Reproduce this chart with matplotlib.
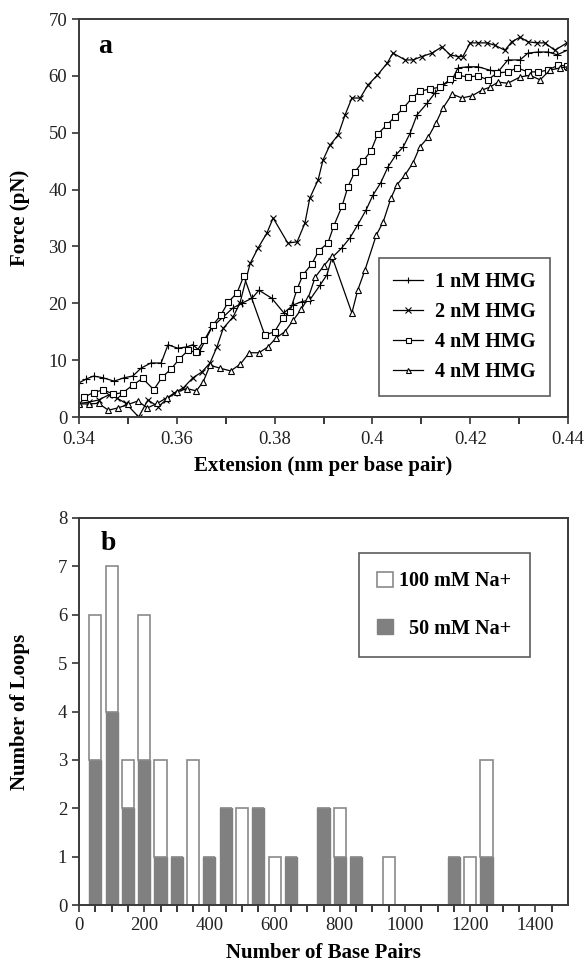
import matplotlib
matplotlib.use("Agg")
import matplotlib.pyplot as plt
from matplotlib.patches import Patch

plt.rcParams['font.family'] = ['Liberation Serif', 'DejaVu Serif']

# --- panel a: force vs extension ---
ext_1nm = [0.3400, 0.3415, 0.3430, 0.3449, 0.3472, 0.3492, 0.3510, 0.3527, 0.3547, 0.3568,
           0.3582, 0.3602, 0.3619, 0.3633, 0.3647, 0.3672, 0.3695, 0.3715, 0.3733, 0.3754,
           0.3768, 0.3794, 0.3819, 0.3838, 0.3856, 0.3872, 0.3893, 0.3907, 0.3917, 0.3937,
           0.3954, 0.3970, 0.3987, 0.4001, 0.4017, 0.4032, 0.4048, 0.4063, 0.4077, 0.4091,
           0.4112, 0.4128, 0.4145, 0.4163, 0.4175, 0.4196, 0.4216, 0.4240, 0.4257, 0.4277,
           0.4302, 0.4318, 0.4339, 0.4359, 0.4378, 0.4398]
force_1nm = [6.0, 6.7, 7.2, 6.9, 6.3, 6.9, 7.2, 8.6, 9.5, 9.5,
             12.7, 12.1, 12.3, 12.7, 11.6, 15.8, 17.6, 19.2, 20.0, 20.9,
             22.3, 20.9, 18.3, 19.7, 20.3, 20.6, 23.2, 25.0, 28.0, 29.7,
             31.5, 33.8, 36.4, 39.0, 41.2, 44.0, 46.1, 47.5, 49.9, 53.1,
             55.2, 57.0, 58.4, 59.3, 61.4, 61.6, 61.6, 61.0, 60.7, 62.8,
             62.8, 64.0, 64.2, 64.2, 63.7, 64.5]

ext_2nm = [0.3400, 0.3420, 0.3440, 0.3461, 0.3478, 0.3496, 0.3522, 0.3541, 0.3562, 0.3578,
           0.3594, 0.3613, 0.3633, 0.3651, 0.3668, 0.3682, 0.3695, 0.3715, 0.3729, 0.3750,
           0.3766, 0.3784, 0.3797, 0.3827, 0.3846, 0.3862, 0.3872, 0.3889, 0.3899, 0.3913,
           0.3930, 0.3944, 0.3958, 0.3975, 0.3991, 0.4010, 0.4030, 0.4042, 0.4067, 0.4083,
           0.4101, 0.4122, 0.4142, 0.4159, 0.4175, 0.4185, 0.4200, 0.4216, 0.4234, 0.4250,
           0.4271, 0.4285, 0.4302, 0.4318, 0.4336, 0.4353, 0.4373, 0.4398]
force_2nm = [2.4, 2.6, 3.0, 3.9, 3.3, 2.4, 0.0, 3.0, 1.8, 3.0,
             4.2, 5.1, 6.9, 7.9, 9.5, 12.3, 15.6, 17.6, 20.0, 27.0,
             29.7, 32.3, 35.0, 30.6, 30.8, 34.1, 38.5, 41.7, 45.2, 47.8,
             49.6, 53.1, 56.1, 56.1, 58.4, 60.1, 62.2, 64.0, 62.8, 62.8,
             63.4, 64.0, 65.1, 63.7, 63.4, 63.4, 65.8, 65.8, 65.8, 65.4,
             64.5, 66.0, 66.8, 66.0, 65.8, 65.8, 64.5, 65.8]

ext_4nm_a = [0.3410, 0.3430, 0.3450, 0.3470, 0.3490, 0.3510, 0.3530, 0.3553, 0.3570, 0.3589,
             0.3605, 0.3623, 0.3639, 0.3656, 0.3674, 0.3690, 0.3705, 0.3723, 0.3737, 0.3780,
             0.3800, 0.3817, 0.3831, 0.3846, 0.3858, 0.3876, 0.3890, 0.3909, 0.3921, 0.3938,
             0.3950, 0.3964, 0.3981, 0.3997, 0.4011, 0.4030, 0.4046, 0.4063, 0.4081, 0.4097,
             0.4118, 0.4138, 0.4159, 0.4175, 0.4195, 0.4216, 0.4236, 0.4255, 0.4277, 0.4296,
             0.4318, 0.4339, 0.4359, 0.4380, 0.4398]
force_4nm_a = [3.5, 4.3, 4.8, 4.0, 4.3, 5.6, 6.8, 4.8, 7.0, 8.5,
               10.2, 11.7, 11.4, 13.5, 16.2, 17.9, 20.2, 21.8, 24.8, 14.4,
               15.0, 17.4, 18.5, 22.5, 25.0, 26.9, 29.2, 30.6, 33.6, 37.1,
               40.5, 43.1, 45.0, 46.8, 49.8, 51.4, 52.8, 54.3, 56.1, 57.3,
               57.7, 58.0, 59.4, 60.1, 59.8, 60.0, 59.3, 60.5, 60.7, 61.4,
               60.7, 60.7, 61.0, 61.9, 61.7]

ext_4nm_b = [0.3400, 0.3420, 0.3440, 0.3460, 0.3480, 0.3500, 0.3520, 0.3540, 0.3560, 0.3580,
             0.3600, 0.3620, 0.3640, 0.3654, 0.3668, 0.3688, 0.3710, 0.3730, 0.3748, 0.3768,
             0.3786, 0.3803, 0.3821, 0.3838, 0.3855, 0.3869, 0.3883, 0.3900, 0.3917, 0.3958,
             0.3970, 0.3985, 0.4008, 0.4022, 0.4038, 0.4050, 0.4067, 0.4083, 0.4097, 0.4114,
             0.4130, 0.4144, 0.4163, 0.4183, 0.4204, 0.4224, 0.4240, 0.4257, 0.4277, 0.4302,
             0.4322, 0.4343, 0.4363, 0.4384, 0.4400]
force_4nm_b = [2.3, 2.3, 2.4, 1.2, 1.6, 2.2, 2.8, 1.6, 2.4, 3.4,
               4.4, 5.0, 4.6, 6.2, 9.1, 8.6, 8.1, 9.3, 11.3, 11.3,
               12.3, 13.9, 15.0, 17.0, 19.0, 21.0, 24.6, 26.5, 28.3, 18.3,
               22.3, 25.9, 32.0, 34.3, 38.5, 40.8, 42.6, 44.7, 47.5, 49.2,
               51.7, 54.3, 56.8, 56.1, 56.5, 57.5, 58.0, 58.9, 58.7, 59.8,
               60.1, 59.3, 61.0, 61.4, 61.6]

# --- panel b: loop size histogram ---
bp_bins = [50, 100, 150, 200, 250, 300, 350, 400, 450, 500, 550, 600, 650, 700,
           750, 800, 850, 900, 950, 1000, 1050, 1100, 1150, 1200, 1250]
loops_50mM = [3, 4, 2, 3, 1, 1, 0, 1, 2, 0, 2, 0, 1, 0,
              2, 1, 1, 0, 0, 0, 0, 0, 1, 0, 1]
loops_100mM = [3, 3, 1, 3, 2, 0, 3, 0, 0, 2, 0, 1, 0, 0,
               0, 1, 0, 0, 1, 0, 0, 0, 0, 1, 2]

W, H = 587, 965
fig = plt.figure(figsize=(W / 100, H / 100), dpi=100)

ax1 = fig.add_axes([79 / W, 1 - 417 / H, 489 / W, 398 / H])
ax2 = fig.add_axes([79 / W, 1 - 905 / H, 489 / W, 387 / H])

frame = '#3a3a3a'
for ax in (ax1, ax2):
    for sp in ax.spines.values():
        sp.set_color(frame)
        sp.set_linewidth(1.4)
    ax.tick_params(direction='out', colors='#222222', labelsize=13.5, width=1.1, length=5)
    ax.tick_params(which='minor', direction='out', width=1.1, length=5)
ax1.tick_params(axis='x', pad=5)

mk = dict(color='black', lw=0.9, mfc='white', mec='black', mew=0.8)
ax1.plot(ext_1nm, force_1nm, marker='+', ms=6, label='1 nM HMG', **mk)
ax1.plot(ext_2nm, force_2nm, marker='x', ms=5, label='2 nM HMG', **mk)
ax1.plot(ext_4nm_a, force_4nm_a, marker='s', ms=4.5, label='4 nM HMG', **mk)
ax1.plot(ext_4nm_b, force_4nm_b, marker='^', ms=4.5, label='4 nM HMG', **mk)

ax1.set_xlim(0.34, 0.44)
ax1.set_ylim(0, 70)
ax1.set_xticks([0.34, 0.36, 0.38, 0.40, 0.42, 0.44])
ax1.set_xticklabels(['0.34', '0.36', '0.38', '0.4', '0.42', '0.44'])
ax1.set_xticks([0.35, 0.37, 0.39, 0.41, 0.43], minor=True)
ax1.set_yticks(range(0, 71, 10))
ax1.set_xlabel('Extension (nm per base pair)', fontsize=15, fontweight='bold')
ax1.set_ylabel('Force (pN)', fontsize=15, fontweight='bold')
ax1.xaxis.set_label_coords(0.5, -0.098)
ax1.yaxis.set_label_coords(-0.1, 0.5)
ax1.text(0.04, 0.93, 'a', transform=ax1.transAxes, fontsize=20, fontweight='bold', va='center')

leg1 = ax1.legend(loc='upper left', bbox_to_anchor=(0.613, 0.40), borderaxespad=0,
                  frameon=True, fancybox=False, edgecolor='#333333',
                  prop={'weight': 'bold', 'size': 14.5},
                  handlelength=1.5, handletextpad=0.6, labelspacing=0.5,
                  borderpad=0.7, markerscale=0.8)
leg1.get_frame().set_linewidth(1.2)

# stacked bars: 50 mM filled at the bottom, 100 mM open on top
ax2.bar(bp_bins, loops_50mM, width=37, color='#808080', edgecolor='#808080', lw=1)
ax2.bar(bp_bins, loops_100mM, width=37, bottom=loops_50mM, color='white',
        edgecolor='#8a8a8a', lw=1.2)

ax2.set_xlim(0, 1500)
ax2.set_ylim(0, 8)
ax2.set_xticks(range(0, 1401, 200))
ax2.set_xticks(range(50, 1500, 50), minor=True)
ax2.set_yticks(range(0, 9))
ax2.set_xlabel('Number of Base Pairs', fontsize=15, fontweight='bold')
ax2.set_ylabel('Number of Loops', fontsize=15, fontweight='bold')
ax2.xaxis.set_label_coords(0.5, -0.098)
ax2.yaxis.set_label_coords(-0.1, 0.5)
ax2.text(0.045, 0.935, 'b', transform=ax2.transAxes, fontsize=20, fontweight='bold', va='center')

handles = [Patch(facecolor='white', edgecolor='#8a8a8a', lw=1.2),
           Patch(facecolor='#808080', edgecolor='#808080')]
leg2 = ax2.legend(handles, ['100 mM Na+', '  50 mM Na+'], loc='upper left',
                  bbox_to_anchor=(0.573, 0.909), borderaxespad=0,
                  frameon=True, fancybox=False, edgecolor='#333333',
                  prop={'weight': 'bold', 'size': 14.5},
                  handlelength=0.8, handleheight=0.8, handletextpad=0.3,
                  labelspacing=1.35, borderpad=0.9)
leg2.get_frame().set_linewidth(1.2)

fig.savefig('out.png', dpi=100)
